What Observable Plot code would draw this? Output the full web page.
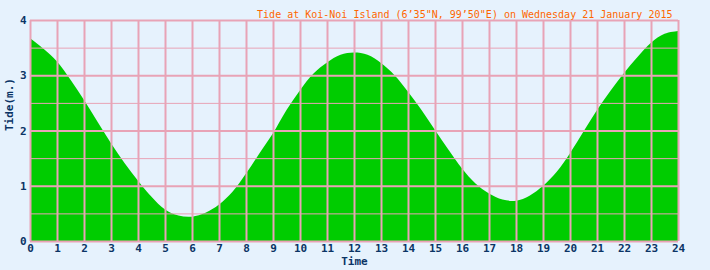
<!DOCTYPE html>
<html><head><meta charset="utf-8">
<script src="https://cdn.jsdelivr.net/npm/d3@7"></script>
<script src="https://cdn.jsdelivr.net/npm/@observablehq/plot@0.6"></script>
<style>body{margin:0;background:#e6f2fd;}</style>
</head><body><div id="chart"></div>
<script>
const hours = [0,0.5,1,1.5,2,2.5,3,3.5,4,4.5,5,5.5,6,6.5,7,7.5,8,8.5,9,9.5,10,10.5,11,11.5,12,12.5,13,13.5,14,14.5,15,15.5,16,16.5,17,17.5,18,18.5,19,19.5,20,20.5,21,21.5,22,22.5,23,23.5,24];
const tide = [3.67,3.48,3.25,2.92,2.55,2.16,1.77,1.41,1.09,0.80,0.57,0.46,0.44,0.51,0.66,0.89,1.22,1.59,1.95,2.37,2.73,3.03,3.23,3.37,3.41,3.37,3.22,3.00,2.70,2.37,2.01,1.65,1.31,1.04,0.86,0.75,0.73,0.82,1.00,1.25,1.59,1.98,2.37,2.72,3.04,3.33,3.59,3.75,3.80];
const xTicks = [0,1,2,3,4,5,6,7,8,9,10,11,12,13,14,15,16,17,18,19,20,21,22,23,24];
const yTicks = [0,1,2,3,4];
const yHalf = [0.5,1.5,2.5,3.5];
const title = "Tide at Koi-Noi Island (6’35\"N, 99’50\"E) on Wednesday 21 January 2015";
const xLabel = "Time";
const yLabel = "Tide(m.)";

const data = hours.map((h, i) => ({h, v: tide[i]}));
const grid = "#e8a3b6";
const ink = "#0b3465";

const chart = Plot.plot({
  width: 710, height: 270,
  marginLeft: 30, marginRight: 32, marginTop: 20, marginBottom: 29,
  style: {background: "#e6f2fd", fontFamily: "'DejaVu Sans Mono', monospace", fontSize: "11px"},
  x: {domain: [0, 24], label: null},
  y: {domain: [0, 4], label: null},
  marks: [
    Plot.areaY(data, {x: "h", y: "v", fill: "#00cc00", curve: "catmull-rom"}),
    Plot.ruleY(yHalf, {stroke: grid, strokeWidth: 1}),
    Plot.ruleY(yTicks, {stroke: grid, strokeWidth: 2}),
    Plot.ruleX(xTicks, {stroke: grid, strokeWidth: 2}),
    Plot.axisX(xTicks, {tickSize: 0, tickPadding: 3, tickFormat: "d", fontWeight: "bold", fill: ink, fontSize: 11, label: null}),
    Plot.axisY(yTicks, {tickSize: 0, tickPadding: 4, tickFormat: "d", fontWeight: "bold", fill: ink, fontSize: 11, label: null}),
    Plot.text([xLabel], {frameAnchor: "bottom", dy: 23, fontWeight: "bold", fill: ink, fontSize: 11}),
    Plot.text([yLabel], {frameAnchor: "left", dx: -21, rotate: -90, fontWeight: "bold", fill: ink, fontSize: 11}),
    Plot.text([title], {frameAnchor: "top-right", dx: -6, dy: -10, textAnchor: "end", fill: "#ff6600", fontSize: 10})
  ]
});
document.getElementById("chart").appendChild(chart);
</script>
</body></html>
